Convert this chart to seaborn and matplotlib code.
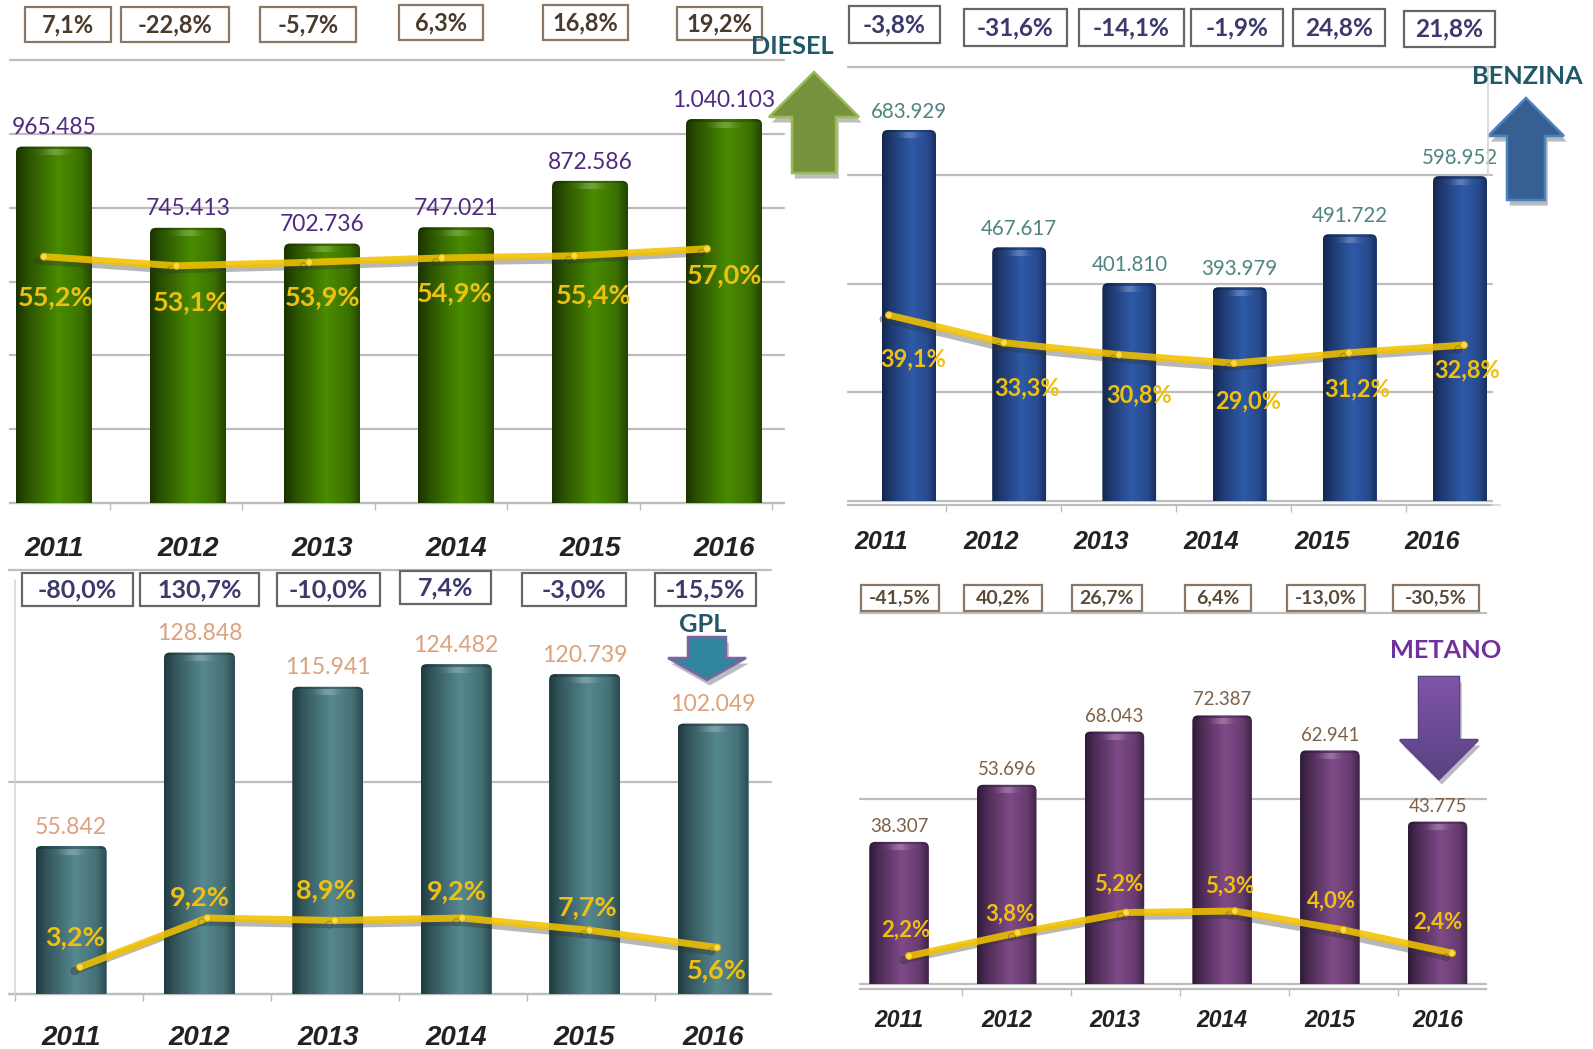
import matplotlib
matplotlib.use('Agg')
import matplotlib.pyplot as plt
import matplotlib.patheffects as pe
from matplotlib.patches import Rectangle, Polygon, FancyBboxPatch
from matplotlib.lines import Line2D
from matplotlib.colors import to_rgb, LinearSegmentedColormap
import seaborn as sns
import pandas as pd
import numpy as np

sns.set_style('white')

W, H = 1593, 1049
years = ['2011', '2012', '2013', '2014', '2015', '2016']

diesel_vol = [965485, 745413, 702736, 747021, 872586, 1040103]
diesel_share = [55.2, 53.1, 53.9, 54.9, 55.4, 57.0]
diesel_change = [7.1, -22.8, -5.7, 6.3, 16.8, 19.2]

benzina_vol = [683929, 467617, 401810, 393979, 491722, 598952]
benzina_share = [39.1, 33.3, 30.8, 29.0, 31.2, 32.8]
benzina_change = [-3.8, -31.6, -14.1, -1.9, 24.8, 21.8]

gpl_vol = [55842, 128848, 115941, 124482, 120739, 102049]
gpl_share = [3.2, 9.2, 8.9, 9.2, 7.7, 5.6]
gpl_change = [-80.0, 130.7, -10.0, 7.4, -3.0, -15.5]

metano_vol = [38307, 53696, 68043, 72387, 62941, 43775]
metano_share = [2.2, 3.8, 5.2, 5.3, 4.0, 2.4]
metano_change = [-41.5, 40.2, 26.7, 6.4, -13.0, -30.5]

# layout is all in reference pixels
panels = [
    dict(name='DIESEL', vol=diesel_vol, share=diesel_share, change=diesel_change,
         left=10, right=784, top=60, bottom=503, c0=54, dc=134, bw=76, ymax=1200000, step=200000,
         l0=44, dl=132.6, sh=(-1.3, 100.3), dark='#1a3300', mid='#4a8c00', vcol='#4f2a80', vsize=16.4, vpad=6,
         ysize=20, ypad=24, yshift=0, psize=19.5, tick=(110, 132.4, 6), out=0, bcol='#4a3a2c', bedge='#8b7765', bsize=17,
         off=[(12, -40), (14, -36), (13, -35), (13, -35), (19, -39), (18, -26)],
         boxes=[(25, 111, 7, 42), (121, 229, 7, 42), (260, 356, 7, 42), (399, 483, 5, 40), (543, 628, 5, 40), (677, 762, 7, 40)],
         title=(792, 47, '#215868'), arrow=(814, 72, 117, 173, 45, 22, '#76923c', '#9bbb59'), extra=[]),
    dict(name='BENZINA', vol=benzina_vol, share=benzina_share, change=benzina_change,
         left=848, right=1492, top=67, bottom=501, c0=909, dc=110.2, bw=54, ymax=800000, step=200000,
         l0=889, dl=115, sh=(0, 91.3), dark='#14264f', mid='#2f5aa8', vcol='#4f8580', vsize=14.8, vpad=6,
         ysize=18, ypad=18, yshift=-28, psize=17, tick=(946, 115, 5), out=4, bcol='#3c3a6b', bedge='#666666', bsize=17.6,
         off=[(24, -44), (23, -45), (20, -40), (14, -38), (8, -36), (3, -25)],
         boxes=[(849, 940, 6, 43), (964, 1067, 9, 46), (1079, 1184, 9, 46), (1191, 1283, 9, 46), (1293, 1385, 9, 46), (1404, 1495, 11, 47)],
         title=(1527, 76, '#215868'), arrow=(1526, 98, 136, 200, 38, 19, '#376092', '#4f81bd'),
         extra=[(1488, 67, 1488, 175), (1492, 505, 1500, 505)]),
    dict(name='GPL', vol=gpl_vol, share=gpl_share, change=gpl_change,
         left=9, right=771, top=570, bottom=994, c0=71, dc=128.4, bw=71, ymax=160000, step=80000,
         l0=80, dl=127.4, sh=(-0.1, 51.8), dark='#1f3b40', mid='#56888f', vcol='#dba27c', vsize=16.6, vpad=6,
         ysize=20, ypad=22.5, yshift=0, psize=19.5, tick=(15, 128, 6), out=0, bcol='#3c3a6b', bedge='#666666', bsize=18,
         off=[(-5, 30), (-8, 21), (-9, 30), (-5, 27), (-2, 23), (0, -23)],
         boxes=[(22, 133, 573, 606), (140, 259, 573, 606), (277, 380, 573, 606), (400, 491, 571, 604), (522, 626, 573, 606), (655, 756, 573, 606)],
         title=(703, 625, '#215868'), arrow=(707, 680, 658, 637, 39, 19, '#31859c', '#8064a2'),
         extra=[(15, 580, 15, 994)]),
    dict(name='METANO', vol=metano_vol, share=metano_share, change=metano_change,
         left=860, right=1486, top=613, bottom=984, c0=899, dc=107.7, bw=59.5, ymax=100000, step=50000,
         l0=909, dl=108.6, sh=(0.27, 25.85), dark='#2f1a38', mid='#7f4a88', vcol='#7d5f45', vsize=13.4, vpad=5,
         ysize=16.5, ypad=14.5, yshift=0, psize=16, tick=(962, 109, 5), out=5, bcol='#5c4a38', bedge='#8b7765', bsize=14,
         off=[(-3, 26), (-8, 19), (-8, 28), (-5, 25), (-12, 29), (-14, 31)],
         boxes=[(861, 939, 585, 611), (964, 1042, 585, 611), (1072, 1142, 585, 611), (1185, 1251, 585, 611), (1287, 1365, 585, 611), (1393, 1479, 585, 611)],
         title=(1446, 651, '#7030a0'), arrow=(1439, 779, 740, 677, 39, 20, '#7d55a5', '#5a4285'), extra=[]),
]

LINE_COL = '#f2c200'
PCT_COL = '#f0c010'
GRID_COL = '#bdbdbd'


def fx(px):
    return px / W


def fy(px):
    return 1 - px / H


def it(v):
    return f'{v:,}'.replace(',', '.')


def pct(v):
    return f'{v:.1f}'.replace('.', ',') + '%'


def barImage(dark, mid, pw, ph):
    # cylinder look, dark edges and a small light cap on top
    d, m = np.array(to_rgb(dark)), np.array(to_rgb(mid))
    x = np.linspace(0, 1, pw)
    s = np.interp(x, [0, .15, .55, .85, 1], [0, .35, 1, .7, .2])
    img = np.zeros((ph, pw, 3))
    for r in range(ph):
        row = d[None, :] + (m - d)[None, :] * s[:, None]
        if r < 3:
            row = row * 0.8
        elif r < 9:
            row = row + (1 - row) * 0.22 * np.exp(-((x - .5) / .15) ** 2)[:, None]
        img[r] = row
    return np.clip(img, 0, 1)


fig = plt.figure(figsize=(W / 100, H / 100), dpi=100)

for p in panels:
    rect = [fx(p['left']), fy(p['bottom']), (p['right'] - p['left']) / W, (p['bottom'] - p['top']) / H]
    ax = fig.add_axes(rect)
    df = pd.DataFrame({'year': years, 'vol': p['vol']})
    sns.barplot(data=df, x='year', y='vol', color=p['mid'], saturation=1, width=p['bw'] / p['dc'], ax=ax, zorder=3)

    xlim = ((p['left'] - p['c0']) / p['dc'], (p['right'] - p['c0']) / p['dc'])
    ypx = p['ymax'] / (p['bottom'] - p['top'])
    xpx = 1 / p['dc']
    for b in ax.containers[0]:
        x0, w, h = b.get_x(), b.get_width(), b.get_height()
        r = 6 * xpx
        clip = FancyBboxPatch((x0, -20 * ypx), w, h + 20 * ypx, boxstyle=f'round,pad=0,rounding_size={r}',
                              mutation_aspect=ypx / xpx, transform=ax.transData, fc='none', ec='none')
        ax.add_patch(clip)
        b.set_clip_path(clip)
        img = barImage(p['dark'], p['mid'], int(p['bw']), int(h / ypx))
        im = ax.imshow(img, extent=(x0, x0 + w, 0, h), aspect='auto', zorder=4, interpolation='bilinear')
        im.set_clip_path(clip)

    ax.bar_label(ax.containers[0], labels=[it(v) for v in p['vol']], padding=p['vpad'], color=p['vcol'],
                 fontsize=p['vsize'], family='Lato', zorder=6)

    # moving the spine resets tick styling, so this comes before the ticks
    sns.despine(ax=ax, left=True)
    ax.spines['bottom'].set_color(GRID_COL)
    ax.spines['bottom'].set_linewidth(1.6)
    if p['out']:
        ax.spines['bottom'].set_position(('outward', p['out'] * .72))

    ax.set_ylim(0, p['ymax'])
    ax.set_yticks(np.arange(0, p['ymax'] + 1, p['step']))
    ax.set_yticklabels([])
    ax.yaxis.grid(True, color=GRID_COL, lw=1.6, zorder=0)
    ax.set_axisbelow(True)
    for g in ax.yaxis.get_gridlines():
        g.set_clip_on(False)
    ax.set_xlabel('')
    ax.set_ylabel('')
    ax.set_xticks(np.arange(6) + p['yshift'] / p['dc'], labels=years)
    t0, dt, nt = p['tick']
    ax.set_xticks([(t0 + dt * i - p['c0']) / p['dc'] for i in range(nt)], minor=True)
    # ticks outside the view would widen it, so the limits go last
    ax.set_xlim(xlim)
    ax.tick_params(axis='x', which='minor', length=5, width=1, color=GRID_COL, bottom=True)
    ax.tick_params(axis='x', which='major', length=0, pad=p['ypad'])
    ax.tick_params(axis='y', length=0)
    for lab in ax.get_xticklabels():
        lab.set_fontsize(p['ysize'])
        lab.set_fontweight('bold')
        lab.set_fontstyle('italic')
        lab.set_family('Liberation Sans')
        lab.set_color('#222222')

    # share line sits on its own axes over the bars
    ax2 = fig.add_axes(rect, facecolor='none')
    ax2.set_xlim((p['left'] - p['l0']) / p['dl'], (p['right'] - p['l0']) / p['dl'])
    ax2.set_ylim(p['sh'])
    ldf = pd.DataFrame({'i': range(6), 'share': p['share']})
    sns.lineplot(data=ldf, x='i', y='share', ax=ax2, color=LINE_COL, lw=5, alpha=.88, marker='o', markersize=5,
                 markeredgecolor='#d9a800', markerfacecolor='#ffe14d',
                 path_effects=[pe.SimpleLineShadow(offset=(-4, -3), shadow_color='#333333', alpha=.35), pe.Normal()])
    ax2.axis('off')
    for i, v in enumerate(p['share']):
        ax2.annotate(pct(v), (i, v), xytext=(p['off'][i][0] * .72, p['off'][i][1] * .72), textcoords='offset points',
                     ha='center', va='center', color=PCT_COL, fontsize=p['psize'], fontweight='bold', family='Lato')

    # yoy boxes on top
    for (x0, x1, y0, y1), v in zip(p['boxes'], p['change']):
        fig.add_artist(Rectangle((fx(x0), fy(y1)), (x1 - x0) / W, (y1 - y0) / H, transform=fig.transFigure,
                                 fc='white', ec=p['bedge'], lw=1.6,
                                 path_effects=[pe.withSimplePatchShadow(offset=(0, -1), alpha=.25)]))
        fig.text(fx((x0 + x1) / 2), fy((y0 + y1) / 2), pct(v), ha='center', va='center', color=p['bcol'],
                 fontsize=p['bsize'], fontweight='bold', family='Lato')

    tx, ty, tc = p['title']
    fig.text(fx(tx), fy(ty), p['name'], ha='center', va='center', color=tc, fontsize=18.3, fontweight='bold', family='Lato', zorder=5)

    for xa, ya, xb, yb in p['extra']:
        fig.add_artist(Line2D([fx(xa), fx(xb)], [fy(ya), fy(yb)], color='#d5d5d5', lw=1.2))

    cx, tip, base, tail, hw, sw, fc, ec = p['arrow']
    pts = [(cx, tip), (cx + hw, base), (cx + sw, base), (cx + sw, tail), (cx - sw, tail), (cx - sw, base), (cx - hw, base)]
    poly = Polygon([(fx(a), fy(b)) for a, b in pts], closed=True, transform=fig.transFigure, fc=fc, ec=ec, lw=1.8,
                   path_effects=[pe.withSimplePatchShadow(offset=(2, -4), alpha=.3)])
    fig.add_artist(poly)
    if p['name'] == 'METANO':
        # only this arrow fades from top to bottom
        axa = fig.add_axes([fx(cx - hw), fy(tip), 2 * hw / W, (tip - tail) / H], zorder=3)
        axa.axis('off')
        cm = LinearSegmentedColormap.from_list('fade', [fc, ec])
        im = axa.imshow(np.linspace(0, 1, 64)[:, None], cmap=cm, aspect='auto')
        im.set_clip_path(Polygon([(fx(a), fy(b)) for a, b in pts], closed=True, transform=fig.transFigure))

plt.savefig('out.png', dpi=100)
